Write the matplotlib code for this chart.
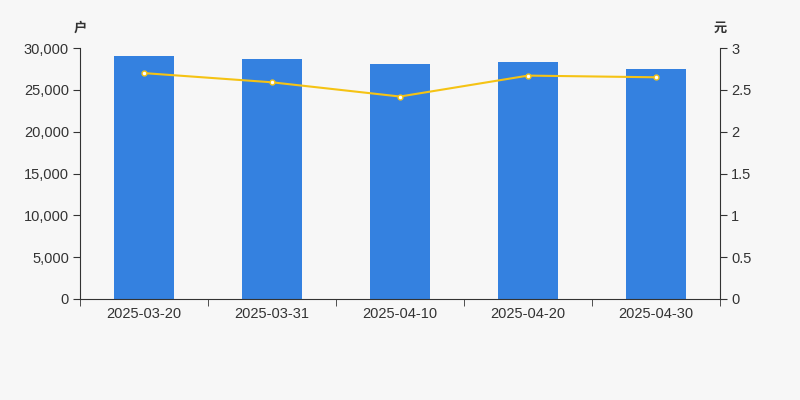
import matplotlib
matplotlib.use("Agg")
import matplotlib.pyplot as plt
from matplotlib.ticker import FuncFormatter, MultipleLocator

plt.rcParams['font.family'] = ['Liberation Sans', 'Noto Sans CJK SC', 'DejaVu Sans']

# --- data ---
dates = ["2025-03-20", "2025-03-31", "2025-04-10", "2025-04-20", "2025-04-30"]
holders = [29050, 28720, 28090, 28330, 27490]   # 户
avg_price = [2.70, 2.59, 2.42, 2.67, 2.65]       # 元

BG = "#f7f7f7"
TXT = "#333333"
BAR = "#3481e0"
LINE = "#f5c314"
FS = 10.5

fig = plt.figure(figsize=(8, 4), dpi=100, facecolor=BG)
ax = fig.add_axes([0.1, 0.2525, 0.8, 0.6275])
ax.set_facecolor(BG)
x = list(range(len(dates)))
ax.bar(x, holders, width=0.47, color=BAR, zorder=2)
ax.set_xlim(-0.5, len(dates) - 0.5)
ax.set_ylim(0, 30000)
ax.yaxis.set_major_locator(MultipleLocator(5000))
ax.yaxis.set_major_formatter(FuncFormatter(lambda v, p: f"{int(v):,}"))
ax.set_xticks(x)
ax.set_xticklabels(dates)
ax.set_xticks([i - 0.5 for i in range(len(dates) + 1)], minor=True)
ax.tick_params(axis='x', which='major', length=0, pad=6, labelsize=FS, colors=TXT)
ax.tick_params(axis='x', which='minor', length=5, color=TXT)
ax.tick_params(axis='y', length=5, labelsize=FS, colors=TXT, pad=3)
for s in ['top', 'right']:
    ax.spines[s].set_visible(False)
for s in ['left', 'bottom']:
    ax.spines[s].set_color(TXT)

ax2 = ax.twinx()
ax2.plot(x, avg_price, color=LINE, lw=1.5, marker='o', ms=3.5,
         mfc='white', mec=LINE, mew=1.0, zorder=3)
ax2.set_ylim(0, 3)
ax2.yaxis.set_major_locator(MultipleLocator(0.5))
ax2.yaxis.set_major_formatter(FuncFormatter(lambda v, p: f"{v:g}"))
ax2.tick_params(axis='y', length=5, labelsize=FS, colors=TXT, pad=3)
for s in ['top', 'left', 'bottom']:
    ax2.spines[s].set_visible(False)
ax2.spines['right'].set_color(TXT)

fig.text(0.1, 0.93, "户", ha='center', va='center', fontsize=9.5,
         color=TXT, family=['Noto Sans CJK SC'], fontweight='bold')
fig.text(0.9, 0.93, "元", ha='center', va='center', fontsize=9.5,
         color=TXT, family=['Noto Sans CJK SC'], fontweight='bold')

fig.savefig("out.png", dpi=100, facecolor=BG)
